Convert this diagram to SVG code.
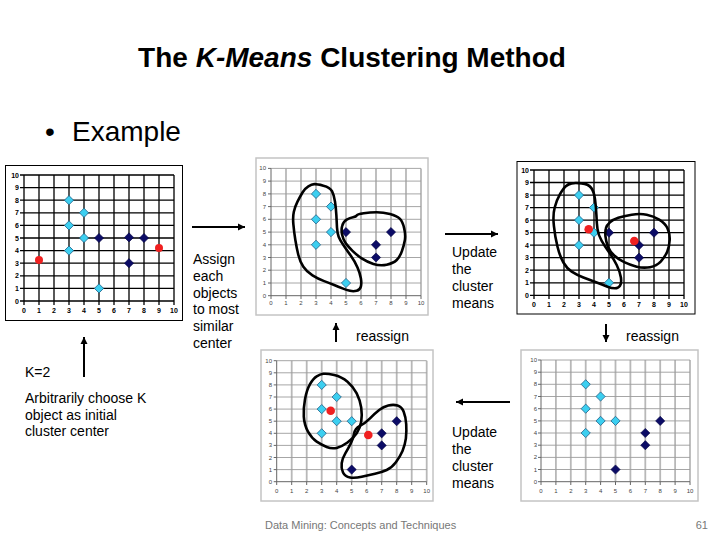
<svg xmlns="http://www.w3.org/2000/svg" width="720" height="540" viewBox="0 0 720 540">
<style>
text{font-family:"Liberation Sans",Arial,sans-serif}
.fk{fill:#fff;stroke:#000;stroke-width:1}
.gk{fill:none;stroke:#000;stroke-width:1.3}
.fg{fill:#fff;stroke:#c4c4c4;stroke-width:1.5}
.gv{fill:none;stroke:#b8b8b8;stroke-width:1.8}
.gh{fill:none;stroke:#9c9c9c;stroke-width:0.9}
.ax{fill:none;stroke:#666;stroke-width:1}
.l1{font-size:7px;font-weight:bold;fill:#000}
.l2{font-size:6px;fill:#444}
.e{text-anchor:end}
.m{text-anchor:middle}
.cy{fill:#3ccff0;stroke:#1f5f88;stroke-width:0.8}
.nv{fill:#0c0c66;stroke:#000040;stroke-width:0.6}
.rd{fill:#f02020}
.blob{fill:none;stroke:#000;stroke-width:2.6;stroke-linejoin:round}
.t{font-size:14px;fill:#000}
.conn{stroke:#000;stroke-width:2;fill:none;marker-end:url(#ah)}
</style>
<defs>
<marker id="ah" markerWidth="8" markerHeight="8" refX="7" refY="4" orient="auto" markerUnits="userSpaceOnUse"><path d="M0,0.5 L7,4 L0,7.5Z" fill="#000"/></marker>
<path id="dm" d="M0,-4.6 L4.6,0 L0,4.6 L-4.6,0Z"/>
</defs>
<rect width="720" height="540" fill="#fff"/>

<g id="title"><text x="352" y="67" class="m" font-size="28" font-weight="bold">The <tspan font-style="italic">K-Means</tspan> Clustering Method</text></g>
<g id="bullet"><text x="45" y="141" font-size="28">•</text><text x="72" y="141" font-size="28">Example</text></g>

<g id="plot1">
<rect class="fk" x="5.5" y="165.5" width="177" height="155"/>
<path class="gk" d="M24,175V305M39,175V305M54,175V305M69,175V305M84,175V305M99,175V305M114,175V305M129,175V305M144,175V305M159,175V305M174,175V305M20,301H174M20,288.4H174M20,275.8H174M20,263.2H174M20,250.6H174M20,238H174M20,225.4H174M20,212.8H174M20,200.2H174M20,187.6H174M20,175H174"/>
<g class="l1 e"><text x="19" y="177.5">10</text><text x="19" y="190.1">9</text><text x="19" y="202.7">8</text><text x="19" y="215.3">7</text><text x="19" y="227.9">6</text><text x="19" y="240.5">5</text><text x="19" y="253.1">4</text><text x="19" y="265.7">3</text><text x="19" y="278.3">2</text><text x="19" y="290.9">1</text><text x="19" y="303.5">0</text></g>
<g class="l1 m"><text x="24" y="312.5">0</text><text x="39" y="312.5">1</text><text x="54" y="312.5">2</text><text x="69" y="312.5">3</text><text x="84" y="312.5">4</text><text x="99" y="312.5">5</text><text x="114" y="312.5">6</text><text x="129" y="312.5">7</text><text x="144" y="312.5">8</text><text x="159" y="312.5">9</text><text x="174" y="312.5">10</text></g>
<g class="cy"><use href="#dm" x="69" y="200.2"/><use href="#dm" x="84" y="212.8"/><use href="#dm" x="69" y="225.4"/><use href="#dm" x="84" y="238"/><use href="#dm" x="69" y="250.6"/><use href="#dm" x="99" y="288.4"/></g>
<g class="nv"><use href="#dm" x="99" y="238"/><use href="#dm" x="129" y="237.4"/><use href="#dm" x="144" y="238"/><use href="#dm" x="129" y="263.2"/></g>
<circle class="rd" cx="39" cy="260" r="4"/><circle class="rd" cx="159" cy="248" r="4"/>
</g>

<g id="plot2">
<rect class="fg" x="256" y="158" width="172" height="157"/>
<path class="gv" d="M286,168.4V295.7M301,168.4V295.7M316,168.4V295.7M331,168.4V295.7M346,168.4V295.7M361,168.4V295.7M376,168.4V295.7M391,168.4V295.7M406,168.4V295.7M421,168.4V295.7"/>
<path class="gh" d="M271,283H421M271,270.2H421M271,257.5H421M271,244.8H421M271,232.1H421M271,219.3H421M271,206.6H421M271,193.9H421M271,181.1H421M271,168.4H421"/>
<path class="ax" d="M271,168.4V299M268,295.7H421M286,295.7V299M301,295.7V299M316,295.7V299M331,295.7V299M346,295.7V299M361,295.7V299M376,295.7V299M391,295.7V299M406,295.7V299M421,295.7V299M268,283H271M268,270.2H271M268,257.5H271M268,244.8H271M268,232.1H271M268,219.3H271M268,206.6H271M268,193.9H271M268,181.1H271M268,168.4H271"/>
<g class="l2 e"><text x="266" y="170.4">10</text><text x="266" y="183.1">9</text><text x="266" y="195.9">8</text><text x="266" y="208.6">7</text><text x="266" y="221.3">6</text><text x="266" y="234.1">5</text><text x="266" y="246.8">4</text><text x="266" y="259.5">3</text><text x="266" y="272.2">2</text><text x="266" y="285">1</text><text x="266" y="297.7">0</text></g>
<g class="l2 m"><text x="271" y="305">0</text><text x="286" y="305">1</text><text x="301" y="305">2</text><text x="316" y="305">3</text><text x="331" y="305">4</text><text x="346" y="305">5</text><text x="361" y="305">6</text><text x="376" y="305">7</text><text x="391" y="305">8</text><text x="406" y="305">9</text><text x="421" y="305">10</text></g>
<g class="cy"><use href="#dm" x="316" y="193.9"/><use href="#dm" x="331" y="206.6"/><use href="#dm" x="316" y="219.3"/><use href="#dm" x="331" y="232.1"/><use href="#dm" x="316" y="244.8"/><use href="#dm" x="346" y="283"/></g>
<g class="nv"><use href="#dm" x="346" y="232.1"/><use href="#dm" x="376" y="244.8"/><use href="#dm" x="376" y="257.5"/><use href="#dm" x="391" y="232.1"/></g>
<path class="blob" d="M314.2,184.15 Q316.7,184 323.35,185.65 Q330,187.3 332,191.15 Q334,195 335,201.65 Q336,208.3 336.35,215 Q336.7,221.7 337,227.5 Q337.3,233.3 338.65,236.65 Q340,240 343.35,245 Q346.7,250 350.85,255.85 Q355,261.7 357.5,267.5 Q360,273.3 360.85,278.3 Q361.7,283.3 360.85,286.65 Q360,290 356.65,290.85 Q353.3,291.7 350,290.85 Q346.7,290 342.5,288.35 Q338.3,286.7 334.15,285 Q330,283.3 324.15,281.15 Q318.3,279 312.5,275.35 Q306.7,271.7 303.35,266.7 Q300,261.7 298.35,255 Q296.7,248.3 295.35,240 Q294,231.7 293.35,224.2 Q292.7,216.7 293.85,211.7 Q295,206.7 297.5,201.7 Q300,196.7 302.5,192.5 Q305,188.3 308.35,186.3 Q311.7,184.3 314.2,184.15Z"/>
<path class="blob" d="M342.2,235 Q341,230 342.2,225.9 Q343.3,221.7 346.7,219.7 Q350,217.7 353,217.2 Q356,216.7 356.7,215.5 Q357.3,214.3 363.7,213.3 Q370,212.3 376.7,212.3 Q383.3,212.3 390,214 Q396.7,215.7 399.7,218.7 Q402.7,221.7 404.2,228.4 Q405.7,235 404.9,240 Q404,245 402,250.9 Q400,256.7 396.7,260 Q393.3,263.3 386.7,264.7 Q380,266 373.4,263.9 Q366.7,261.7 361.7,258.4 Q356.7,255 352.5,250.9 Q348.3,246.7 345.8,243.4 Q343.3,240 342.2,235Z"/>
</g>

<g id="plot3">
<rect class="fk" x="517" y="161.5" width="178" height="152.5"/>
<path class="gk" d="M534,170V299M549,170V299M564,170V299M579,170V299M594,170V299M609,170V299M624,170V299M639,170V299M654,170V299M669,170V299M684,170V299M530,295.3H684M530,282.8H684M530,270.2H684M530,257.7H684M530,245.2H684M530,232.7H684M530,220.1H684M530,207.6H684M530,195.1H684M530,182.5H684M530,170H684"/>
<g class="l1 e"><text x="529" y="172.5">10</text><text x="529" y="185">9</text><text x="529" y="197.6">8</text><text x="529" y="210.1">7</text><text x="529" y="222.6">6</text><text x="529" y="235.2">5</text><text x="529" y="247.7">4</text><text x="529" y="260.2">3</text><text x="529" y="272.7">2</text><text x="529" y="285.3">1</text><text x="529" y="297.8">0</text></g>
<g class="l1 m"><text x="534" y="306.5">0</text><text x="549" y="306.5">1</text><text x="564" y="306.5">2</text><text x="579" y="306.5">3</text><text x="594" y="306.5">4</text><text x="609" y="306.5">5</text><text x="624" y="306.5">6</text><text x="639" y="306.5">7</text><text x="654" y="306.5">8</text><text x="669" y="306.5">9</text><text x="684" y="306.5">10</text></g>
<g class="cy"><use href="#dm" x="579" y="195.1"/><use href="#dm" x="594" y="207.6"/><use href="#dm" x="579" y="220.1"/><use href="#dm" x="594" y="232.7"/><use href="#dm" x="579" y="245.2"/><use href="#dm" x="609" y="282.8"/></g>
<g class="nv"><use href="#dm" x="609" y="232.7"/><use href="#dm" x="639" y="245.2"/><use href="#dm" x="639" y="257.7"/><use href="#dm" x="654" y="232.7"/></g>
<circle class="rd" cx="588.7" cy="229.3" r="4.3"/><circle class="rd" cx="634.3" cy="241" r="4.3"/>
<path class="blob" d="M571.7,183.4 Q575,182.7 581.7,183.4 Q588.3,184 591.2,187.9 Q594,191.7 595,199.2 Q596,206.7 596.4,215 Q596.7,223.3 597.5,229.2 Q598.3,235 601.7,240.9 Q605,246.7 609.2,252.5 Q613.3,258.3 616.7,265 Q620,271.7 620.9,277.5 Q621.7,283.3 620,285.8 Q618.3,288.3 615,288.3 Q611.7,288.3 607.5,286.7 Q603.3,285 596.7,282.5 Q590,280 583.4,277.5 Q576.7,275 571.7,271.7 Q566.7,268.3 563.4,262.5 Q560,256.7 557.5,246.7 Q555,236.7 553.9,225.9 Q552.7,215 554.7,207.5 Q556.7,200 560,194.2 Q563.3,188.3 565.8,186.2 Q568.3,184 571.7,183.4Z"/>
<path class="blob" d="M605.9,228.4 Q606.7,225 610,222.2 Q613.3,219.3 618.3,217.7 Q623.3,216 631.7,214.7 Q640,213.3 646.7,214.7 Q653.3,216 659.2,219.7 Q665,223.3 667.5,228.3 Q670,233.3 669.7,240 Q669.3,246.7 667.2,251.7 Q665,256.7 660.9,261.4 Q656.7,266 650,267.2 Q643.3,268.3 636.7,266.7 Q630,265 624.2,262.2 Q618.3,259.3 614.2,255.5 Q610,251.7 608,246.7 Q606,241.7 605.5,236.7 Q605,231.7 605.9,228.4Z"/>
</g>

<g id="plot4">
<rect class="fg" x="261" y="350" width="172" height="151"/>
<path class="gv" d="M291.7,360.7V481.7M306.7,360.7V481.7M321.7,360.7V481.7M336.7,360.7V481.7M351.7,360.7V481.7M366.7,360.7V481.7M381.7,360.7V481.7M396.7,360.7V481.7M411.7,360.7V481.7M426.7,360.7V481.7"/>
<path class="gh" d="M276.7,469.6H426.7M276.7,457.5H426.7M276.7,445.4H426.7M276.7,433.3H426.7M276.7,421.2H426.7M276.7,409.1H426.7M276.7,397H426.7M276.7,384.9H426.7M276.7,372.8H426.7M276.7,360.7H426.7"/>
<path class="ax" d="M276.7,360.7V485M273.7,481.7H426.7M291.7,481.7V485M306.7,481.7V485M321.7,481.7V485M336.7,481.7V485M351.7,481.7V485M366.7,481.7V485M381.7,481.7V485M396.7,481.7V485M411.7,481.7V485M426.7,481.7V485M273.7,469.6H276.7M273.7,457.5H276.7M273.7,445.4H276.7M273.7,433.3H276.7M273.7,421.2H276.7M273.7,409.1H276.7M273.7,397H276.7M273.7,384.9H276.7M273.7,372.8H276.7M273.7,360.7H276.7"/>
<g class="l2 e"><text x="272" y="362.7">10</text><text x="272" y="374.8">9</text><text x="272" y="386.9">8</text><text x="272" y="399">7</text><text x="272" y="411.1">6</text><text x="272" y="423.2">5</text><text x="272" y="435.3">4</text><text x="272" y="447.4">3</text><text x="272" y="459.5">2</text><text x="272" y="471.6">1</text><text x="272" y="483.7">0</text></g>
<g class="l2 m"><text x="276.7" y="493">0</text><text x="291.7" y="493">1</text><text x="306.7" y="493">2</text><text x="321.7" y="493">3</text><text x="336.7" y="493">4</text><text x="351.7" y="493">5</text><text x="366.7" y="493">6</text><text x="381.7" y="493">7</text><text x="396.7" y="493">8</text><text x="411.7" y="493">9</text><text x="426.7" y="493">10</text></g>
<g class="cy"><use href="#dm" x="321.7" y="384.9"/><use href="#dm" x="336.7" y="397"/><use href="#dm" x="321.7" y="409.1"/><use href="#dm" x="336.7" y="421.2"/><use href="#dm" x="351.7" y="421.2"/><use href="#dm" x="321.7" y="433.3"/></g>
<g class="nv"><use href="#dm" x="396.7" y="421.2"/><use href="#dm" x="381.7" y="433.3"/><use href="#dm" x="381.7" y="445.4"/><use href="#dm" x="351.7" y="469.6"/></g>
<circle class="rd" cx="330.7" cy="410.7" r="4.3"/><circle class="rd" cx="368.3" cy="435" r="4.3"/>
<path class="blob" d="M323.4,373.8 Q326.7,373.3 334.2,375 Q341.7,376.7 347.5,381.7 Q353.3,386.7 356.7,393.4 Q360,400 361.2,407.5 Q362.3,415 361.2,421.7 Q360,428.3 356.7,433.3 Q353.3,438.3 347.5,442.5 Q341.7,446.7 336.7,447.9 Q331.7,449 326.7,447 Q321.7,445 316.7,441.7 Q311.7,438.3 308,431.7 Q304.3,425 303.8,416.7 Q303.3,408.3 305,399.2 Q306.7,390 310,384.2 Q313.3,378.3 316.7,376.3 Q320,374.3 323.4,373.8Z"/>
<path class="blob" d="M354.2,433.3 Q355,428.3 360,425.8 Q365,423.3 370,418.3 Q375,413.3 379.2,410 Q383.3,406.7 388.3,405.5 Q393.3,404.3 397.5,405.5 Q401.7,406.7 403.7,411.7 Q405.7,416.7 406.2,424.2 Q406.7,431.7 405.9,438.4 Q405,445 402.5,450.9 Q400,456.7 395.9,462.2 Q391.7,467.7 386.7,470 Q381.7,472.3 375,473.7 Q368.3,475 361.7,476.7 Q355,478.3 350,477.5 Q345,476.7 343,472.5 Q341,468.3 341.7,463.3 Q342.3,458.3 345.3,453.3 Q348.3,448.3 350.8,443.3 Q353.3,438.3 354.2,433.3Z"/>
</g>

<g id="plot5">
<rect class="fg" x="521" y="350" width="177" height="151"/>
<path class="gv" d="M555.9,360V481.7M570.8,360V481.7M585.7,360V481.7M600.6,360V481.7M615.5,360V481.7M630.4,360V481.7M645.3,360V481.7M660.2,360V481.7M675.1,360V481.7M690,360V481.7"/>
<path class="gh" d="M541,469.5H690M541,457.4H690M541,445.2H690M541,433H690M541,420.9H690M541,408.7H690M541,396.5H690M541,384.3H690M541,372.2H690M541,360H690"/>
<path class="ax" d="M541,360V485M538,481.7H690M555.9,481.7V485M570.8,481.7V485M585.7,481.7V485M600.6,481.7V485M615.5,481.7V485M630.4,481.7V485M645.3,481.7V485M660.2,481.7V485M675.1,481.7V485M690,481.7V485M538,469.5H541M538,457.4H541M538,445.2H541M538,433H541M538,420.9H541M538,408.7H541M538,396.5H541M538,384.3H541M538,372.2H541M538,360H541"/>
<g class="l2 e"><text x="537" y="362">10</text><text x="537" y="374.2">9</text><text x="537" y="386.3">8</text><text x="537" y="398.5">7</text><text x="537" y="410.7">6</text><text x="537" y="422.9">5</text><text x="537" y="435">4</text><text x="537" y="447.2">3</text><text x="537" y="459.4">2</text><text x="537" y="471.5">1</text><text x="537" y="483.7">0</text></g>
<g class="l2 m"><text x="541" y="493">0</text><text x="555.9" y="493">1</text><text x="570.8" y="493">2</text><text x="585.7" y="493">3</text><text x="600.6" y="493">4</text><text x="615.5" y="493">5</text><text x="630.4" y="493">6</text><text x="645.3" y="493">7</text><text x="660.2" y="493">8</text><text x="675.1" y="493">9</text><text x="690" y="493">10</text></g>
<g class="cy"><use href="#dm" x="585.7" y="384.3"/><use href="#dm" x="600.6" y="396.5"/><use href="#dm" x="585.7" y="408.7"/><use href="#dm" x="600.6" y="420.9"/><use href="#dm" x="615.5" y="420.9"/><use href="#dm" x="585.7" y="433"/></g>
<g class="nv"><use href="#dm" x="660.2" y="420.9"/><use href="#dm" x="645.3" y="433"/><use href="#dm" x="645.3" y="445.2"/><use href="#dm" x="615.5" y="469.5"/></g>
</g>

<g id="label-assign" class="t"><text x="193" y="264">Assign</text><text x="193" y="281">each</text><text x="193" y="297.5">objects</text><text x="193" y="314">to most</text><text x="193" y="331">similar</text><text x="193" y="347.5">center</text></g>
<g id="label-update1" class="t"><text x="452" y="257">Update</text><text x="452" y="274">the</text><text x="452" y="291">cluster</text><text x="452" y="308">means</text></g>
<g id="label-update2" class="t"><text x="452" y="437">Update</text><text x="452" y="454">the</text><text x="452" y="471">cluster</text><text x="452" y="488">means</text></g>
<g id="label-reassign1" class="t"><text x="356" y="341">reassign</text></g>
<g id="label-reassign2" class="t"><text x="626" y="341">reassign</text></g>
<g id="label-k" class="t"><text x="25" y="377">K=2</text><text x="25" y="403">Arbitrarily choose K</text><text x="25" y="419.5">object as initial</text><text x="25" y="436">cluster center</text></g>

<g id="connectors">
<path class="conn" d="M84,377V337"/>
<path class="conn" d="M192,227H245"/>
<path class="conn" d="M445,234H498"/>
<path class="conn" d="M336,342V323"/>
<path class="conn" d="M606,324V342"/>
<path class="conn" d="M510,402H456"/>
</g>

<g id="footer"><text x="265" y="529" font-size="11" fill="#777">Data Mining: Concepts and Techniques</text><text x="708" y="529" font-size="11" fill="#777" class="e">61</text></g>
</svg>
